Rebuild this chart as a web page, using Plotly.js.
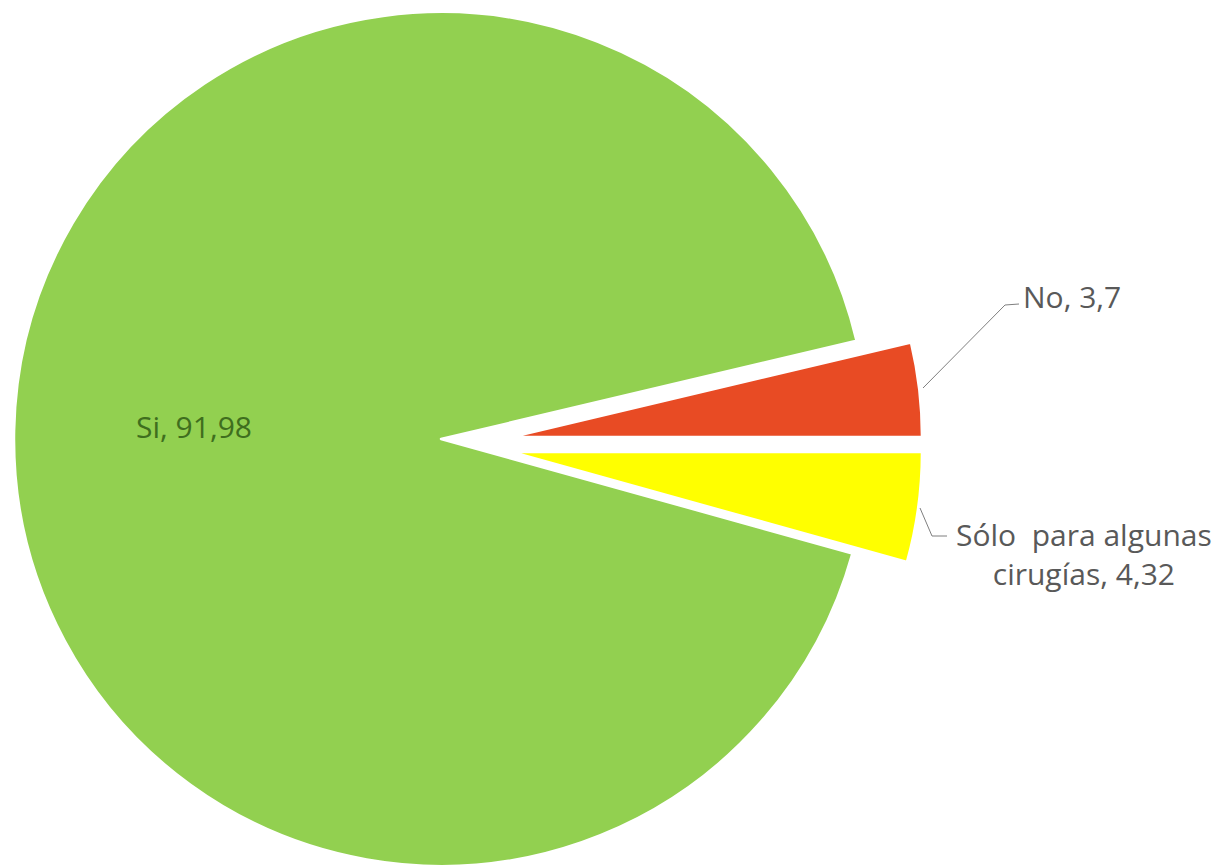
<!DOCTYPE html>
<html>
<head>
<meta charset="utf-8">
<script src="https://cdn.plot.ly/plotly-3.0.1.min.js"></script>
<style>html,body{margin:0;padding:0;background:#fff;}#chart{width:1221px;height:867px;}</style>
</head>
<body>
<div id="chart"></div>
<script>
// Data
const categories = ["No", "Sólo para algunas cirugías", "Si"];
const values = [3.7, 4.32, 91.98];
const valueLabels = ["3,7", "4,32", "91,98"];
const colors = ["#E84B24", "#FFFF00", "#92D050"];

const W = 1221, H = 867;
const px = x => x / W;
const py = y => 1 - y / H;
const TRANSPARENT = "rgba(0,0,0,0)";

// Build one pie trace that shows only the slice at index `show`
function pieTrace(show, cx, cy, r) {
  return {
    type: "pie",
    labels: categories,
    values: values,
    sort: false,
    direction: "clockwise",
    rotation: 90 - values[0] / values.reduce((a, b) => a + b, 0) * 360,
    textinfo: "none",
    hoverinfo: "label+value",
    showlegend: false,
    marker: {
      colors: colors.map((c, i) => i === show ? c : TRANSPARENT),
      line: {
        color: colors.map((c, i) => i === show ? "#FFFFFF" : TRANSPARENT),
        width: colors.map((c, i) => i === show ? 2.5 : 0)
      }
    },
    domain: {
      x: [px(cx - r), px(cx + r)],
      y: [py(cy + r), py(cy - r)]
    }
  };
}

const data = [
  pieTrace(2, 441, 439, 427),   // Si
  pieTrace(0, 512, 437, 410),   // No (exploded)
  pieTrace(1, 512, 452, 410)    // Sólo para algunas cirugías (exploded)
];

const FONT = "'Open Sans', Lato, sans-serif";
const labelFont = {family: FONT, size: 30, color: "#595959"};

const layout = {
  width: W, height: H,
  margin: {l: 0, r: 0, t: 0, b: 0},
  paper_bgcolor: "#FFFFFF",
  showlegend: false,
  annotations: [
    {xref: "paper", yref: "paper", x: px(194), y: py(426), xanchor: "center", yanchor: "middle",
     text: categories[2] + ", " + valueLabels[2], showarrow: false,
     font: {family: FONT, size: 30, color: "#3F6E1E"}},
    {xref: "paper", yref: "paper", x: px(1021), y: py(297), xanchor: "left", yanchor: "middle",
     text: categories[0] + ", " + valueLabels[0], showarrow: false, font: labelFont},
    {xref: "paper", yref: "paper", x: px(1084), y: py(554), xanchor: "center", yanchor: "middle", align: "center",
     text: "Sólo  para algunas<br>cirugías, " + valueLabels[1], showarrow: false, font: labelFont}
  ],
  shapes: [
    {type: "path", xref: "paper", yref: "paper",
     path: "M " + px(923) + " " + py(388) + " L " + px(1005) + " " + py(305) + " L " + px(1019) + " " + py(304),
     line: {color: "#7F7F7F", width: 1}},
    {type: "path", xref: "paper", yref: "paper",
     path: "M " + px(920) + " " + py(508) + " L " + px(932) + " " + py(536) + " L " + px(947) + " " + py(536),
     line: {color: "#7F7F7F", width: 1}}
  ]
};

Plotly.newPlot("chart", data, layout, {displayModeBar: false, staticPlot: true});
</script>
</body>
</html>
